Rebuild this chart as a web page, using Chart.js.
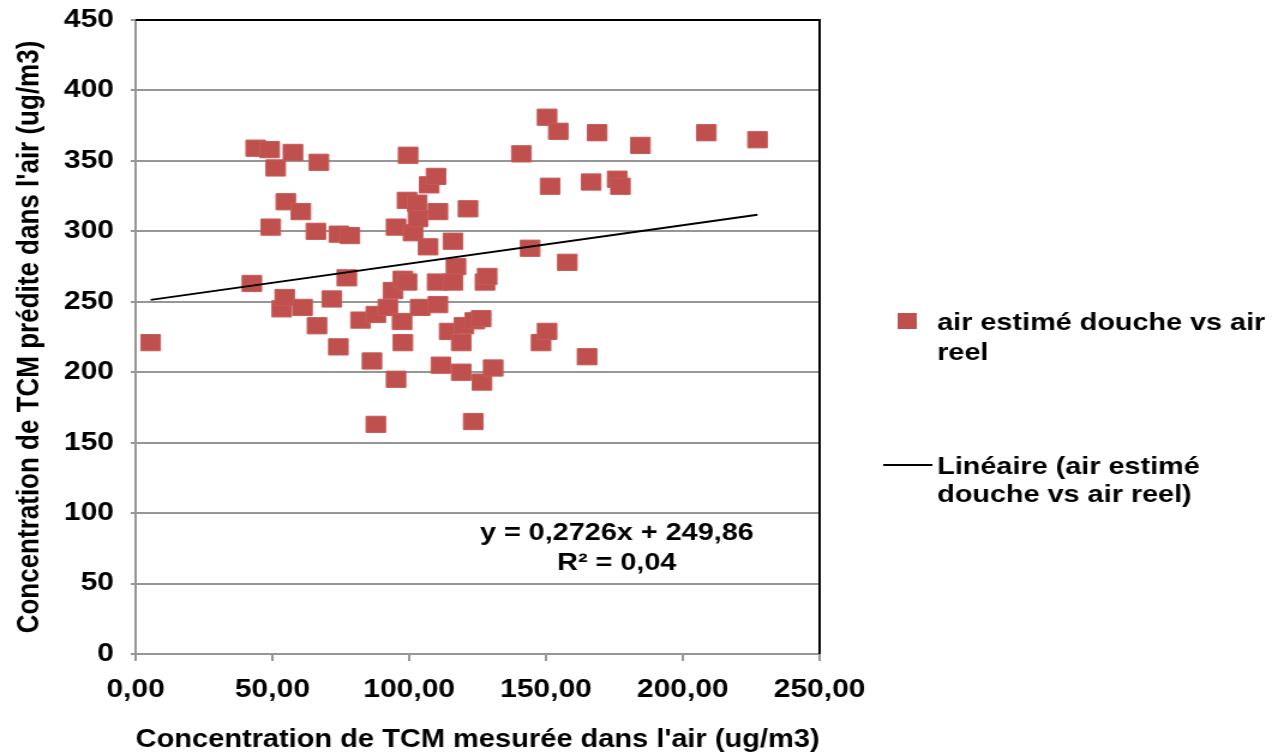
<!DOCTYPE html>
<html>
<head>
<meta charset="utf-8">
<script src="https://cdn.jsdelivr.net/npm/chart.js@4/dist/chart.umd.min.js"></script>
<style>
  html, body { margin: 0; padding: 0; background: #fff; overflow: hidden; }
</style>
</head>
<body>
<!-- drawn at 1060 wide, then stretched to 1272 like the original picture -->
<canvas id="chart" width="1060" height="755" style="width:1272px;height:755px"></canvas>
<script>
// Data
const measuredX = [5.5, 42.5, 43.9, 49.0, 49.4, 51.2, 53.4, 54.5, 54.9, 57.5,
  60.4, 61.0, 65.9, 66.3, 67.0, 71.7, 74.3, 74.1, 77.2, 78.3,
  82.2, 86.4, 87.8, 87.8, 92.2, 94.1, 95.2, 95.2, 97.4, 97.7,
  97.7, 99.2, 99.6, 99.2, 101.4, 102.9, 103.2, 104.0, 106.9, 107.3,
  109.8, 110.5, 110.2, 110.5, 111.6, 114.6, 116.0, 117.1, 116.0, 119.0,
  119.0, 120.0, 121.5, 123.4, 124.0, 126.3, 126.6, 127.7, 128.5, 130.7,
  141.0, 144.2, 148.2, 150.4, 150.4, 151.5, 154.5, 157.8, 165.0, 166.5,
  168.7, 176.0, 177.2, 184.5, 208.6, 227.3];
const predictedY = [221, 263, 359, 358, 303, 345, 245, 253, 321, 356,
  314, 246, 300, 233, 349, 252, 298, 218, 267, 297,
  237, 208, 163, 241, 246, 258, 303, 195, 236, 221,
  266, 264, 354, 322, 299, 320, 309, 246, 289, 333,
  339, 314, 264, 248, 205, 229, 293, 275, 264, 221,
  200, 233, 316, 165, 236.5, 238, 193, 264, 268, 203,
  355, 288, 221, 229, 381, 332, 371, 278, 211, 335,
  370, 337, 332, 361, 370, 365];

// trendline from the equation printed on the chart
const slope = 0.2726;
const intercept = 249.86;
const trendX = [5.5, 227.3];

const xTicks = [0, 50, 100, 150, 200, 250];
const yTicks = [0, 50, 100, 150, 200, 250, 300, 350, 400, 450];

const seriesName = ["air estimé douche vs air", "reel"];
const trendName = ["Linéaire (air estimé", "douche vs air reel)"];
const equationText = ["y = 0,2726x + 249,86", "R² = 0,04"];

const FONT = '"Liberation Sans", Arial, sans-serif';
Chart.defaults.font.family = FONT;
Chart.defaults.color = "#000";

const points = measuredX.map((x, i) => ({ x: x, y: predictedY[i] }));
const trend = trendX.map(x => ({ x: x, y: slope * x + intercept }));

// black frame on top and right, legend and equation text
const extras = {
  id: "extras",
  afterDatasetsDraw(chart) {
    const ctx = chart.ctx;
    const a = chart.chartArea;
    ctx.save();
    ctx.strokeStyle = "#000";
    ctx.lineWidth = 2;
    ctx.beginPath();
    ctx.moveTo(a.left, a.top);
    ctx.lineTo(a.right, a.top);
    ctx.lineTo(a.right, a.bottom);
    ctx.stroke();

    // equation
    ctx.fillStyle = "#000";
    ctx.font = "bold 24px " + FONT;
    ctx.textAlign = "center";
    ctx.textBaseline = "middle";
    ctx.fillText(equationText[0], 514, 533);
    ctx.fillText(equationText[1], 514, 563);

    // legend
    ctx.fillStyle = "#C0504D";
    ctx.fillRect(748, 313, 16, 16);
    ctx.strokeStyle = "#000";
    ctx.lineWidth = 2;
    ctx.beginPath();
    ctx.moveTo(736, 465);
    ctx.lineTo(777, 465);
    ctx.stroke();

    ctx.fillStyle = "#000";
    ctx.font = "bold 24px " + FONT;
    ctx.textAlign = "left";
    ctx.fillText(seriesName[0], 781, 323);
    ctx.fillText(seriesName[1], 781, 353);
    ctx.fillText(trendName[0], 781, 467);
    ctx.fillText(trendName[1], 781, 495);
    ctx.restore();
  }
};

new Chart(document.getElementById("chart"), {
  type: "scatter",
  data: {
    datasets: [
      {
        type: "line",
        label: trendName.join(" "),
        data: trend,
        borderColor: "#000",
        borderWidth: 2,
        pointRadius: 0,
        fill: false
      },
      {
        label: seriesName.join(" "),
        data: points,
        pointStyle: "rect",
        radius: 11.5,
        hoverRadius: 11.5,
        backgroundColor: "#C0504D",
        borderColor: "#C65C59",
        borderWidth: 1
      }
    ]
  },
  options: {
    responsive: false,
    animation: false,
    layout: { padding: { left: 0, right: 377, top: 20, bottom: 0 } },
    plugins: {
      legend: { display: false },
      tooltip: { enabled: false }
    },
    scales: {
      x: {
        type: "linear",
        min: 0,
        max: 250,
        afterBuildTicks: s => { s.ticks = xTicks.map(v => ({ value: v })); },
        afterFit: s => { s.height = 101; },
        ticks: {
          padding: 14,
          font: { size: 25, weight: "bold" },
          callback: v => v.toFixed(2).replace(".", ",")
        },
        grid: { drawOnChartArea: false, tickLength: 7, color: "#969696", lineWidth: 2 },
        border: { color: "#969696", width: 2 },
        title: {
          display: true,
          text: "Concentration de TCM mesurée dans l'air (ug/m3)",
          font: { size: 25, weight: "bold" },
          padding: { top: 0, bottom: 0 }
        }
      },
      y: {
        type: "linear",
        min: 0,
        max: 450,
        afterBuildTicks: s => { s.ticks = yTicks.map(v => ({ value: v })); },
        afterFit: s => { s.width = 113; s.paddingTop = 0; s.paddingBottom = 0; },
        ticks: {
          padding: 14,
          font: { size: 25, weight: "bold" }
        },
        grid: { tickLength: 4, color: "#969696", lineWidth: 2 },
        border: { color: "#969696", width: 2 },
        title: {
          display: true,
          text: "Concentration de TCM prédite dans l'air (ug/m3)",
          font: { size: 26, weight: "bold" },
          padding: { top: 9, bottom: 0 }
        }
      }
    }
  },
  plugins: [extras]
});
</script>
</body>
</html>
